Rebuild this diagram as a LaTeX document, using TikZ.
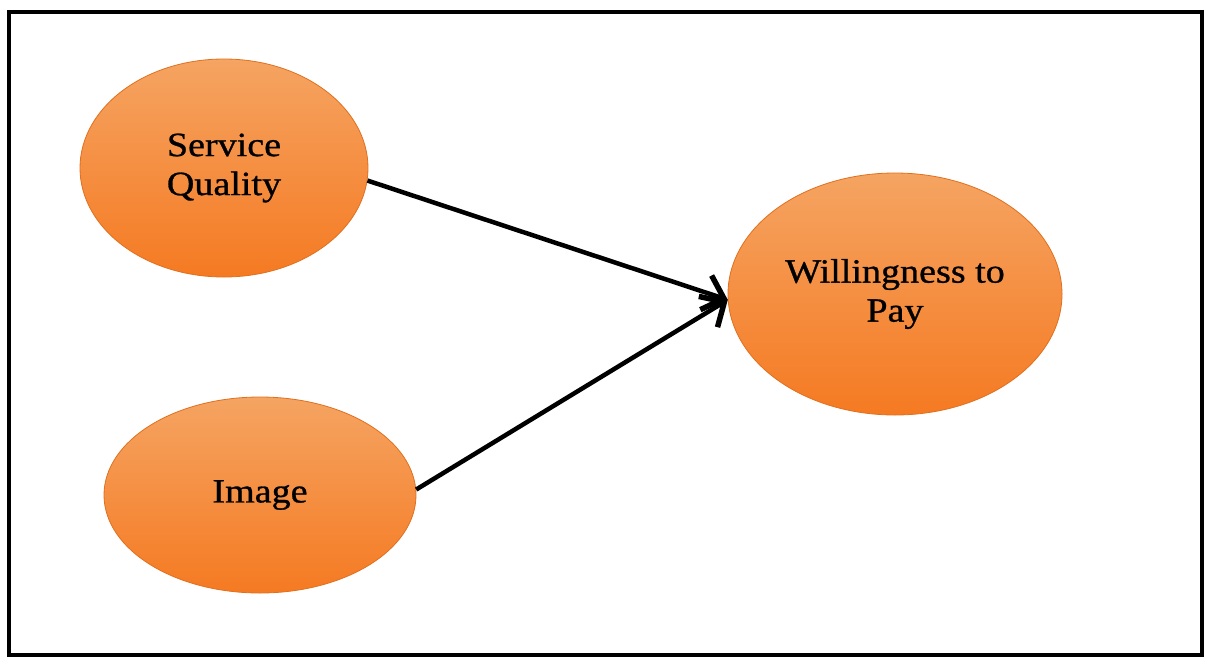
\documentclass[tikz,border=0pt]{standalone}
\usepackage{fontspec}
\setmainfont{Liberation Serif}[FakeStretch=1.12,FakeBold=0.8]
\usetikzlibrary{shapes.geometric,arrows.meta}
\definecolor{ortop}{HTML}{F5A462}
\definecolor{orbot}{HTML}{F57A22}
\definecolor{oredge}{HTML}{E0701E}
\tikzset{
  factor/.style={ellipse, inner sep=0pt, draw=oredge, line width=0.8pt,
    top color=ortop, bottom color=orbot, align=center,
    font=\fontsize{34}{39}\selectfont, text=black},
  link/.style={line width=4.5pt, -{Straight Barb[length=19pt,width=36pt,line width=5.5pt]}}
}
\begin{document}
\begin{tikzpicture}[x=1pt,y=-1pt]
\useasboundingbox (0,0) rectangle (1207,659);
\fill[white] (0,0) rectangle (1207,659);
\draw[line width=4pt, fill=white] (9,12) rectangle (1202,655);
\node[factor, minimum width=288pt, minimum height=218pt] (sq) at (224,168) {Service\\Quality};
\node[factor, minimum width=312pt, minimum height=196pt] (img) at (260,495) {Image};
\node[factor, minimum width=334pt, minimum height=242pt] (wtp) at (895,294) {Willingness to\\Pay};
\draw[link] (sq.-5) -- (wtp.182);
\draw[link] (img.2) -- (wtp.182);
\end{tikzpicture}
\end{document}
